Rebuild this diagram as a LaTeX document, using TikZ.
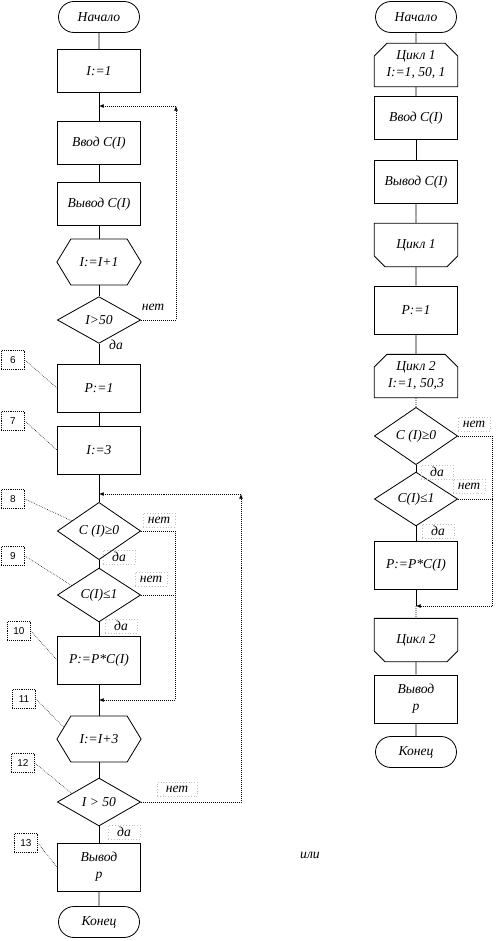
\documentclass[tikz,border=0pt]{standalone}
\usepackage{fontspec}
\setmainfont{Liberation Serif}
\newfontfamily\numfont{Liberation Sans}
\usetikzlibrary{arrows.meta, shapes.geometric, shapes.misc, calc}

\begin{document}
\begin{tikzpicture}[x=0.03cm, y=-0.03cm,
        base/.style={draw, line width=0.7pt, align=center, inner sep=1pt, font=\fontsize{11.6}{14.5}\selectfont\itshape},
        term/.style={base, rounded rectangle, minimum width=2.5cm, minimum height=0.93cm},
        box/.style={base, rectangle, minimum width=2.5cm, minimum height=1.28cm},
        tallbox/.style={box, minimum height=1.44cm},
        hexbox/.style={base, draw=none, minimum width=2.5cm, minimum height=1.36cm},
        cond/.style={base, diamond, minimum width=2.5cm, minimum height=1.4cm},
        loopopen/.style={base, chamfered rectangle, chamfered rectangle corners={north west, north east}, chamfered rectangle xsep=0.27cm, minimum width=2.5cm, minimum height=1.3cm},
        loopclose/.style={base, chamfered rectangle, chamfered rectangle corners={south west, south east}, chamfered rectangle xsep=0.3cm, minimum width=2.5cm, minimum height=1.3cm},
        tag/.style={font=\fontsize{11.6}{13}\selectfont\itshape, inner sep=1pt},
        tagbox/.style={tag, draw=gray!50, dotted, minimum width=0.95cm, minimum height=0.42cm},
        numbox/.style={draw, line width=0.6pt, densely dotted, font=\numfont\fontsize{8.5}{9}\selectfont, minimum width=0.69cm, minimum height=0.57cm, inner sep=0pt},
        pointer/.style={densely dotted, line width=0.5pt},
        flow/.style={line width=0.7pt},
        dotline/.style={densely dotted, line width=0.7pt},
        back/.style={dotline, -{Latex[length=4pt, width=3.5pt]}}
    ]
        \useasboundingbox (0,0) rectangle (501,941);

        % left scheme
        \node[term] (startL) at (99,17) {Начало};
        \node[box] (initL) at (99,71) {I:=1};
        \node[box] (inL) at (99,143) {Ввод C(I)};
        \node[box] (outL) at (99,204) {Вывод C(I)};
        \node[hexbox] (incL) at (99,262) {I:=I+1};
        \node[cond] (condL) at (99,320) {I>50};
        \node[tallbox] (setP) at (99,388) {P:=1};
        \node[tallbox] (setI) at (99,450) {I:=3};
        \node[cond] (condA) at (99,531) {C (I)≥0};
        \node[cond] (condB) at (99,595) {C(I)≤1};
        \node[tallbox] (mult) at (99,660) {P:=P*C(I)};
        \node[hexbox] (incI) at (99,739) {I:=I+3};
        \node[cond] (condC) at (99,802) {I > 50};
        \node[tallbox] (outP) at (99,867) {Вывод\\p};
        \node[term] (endL) at (99,922) {Конец};

        % hexagons
        \draw[flow] (incL.west) -- ($(incL.north west)+(14,0)$) -- ($(incL.north east)+(-14,0)$) -- (incL.east)
            -- ($(incL.south east)+(-14,0)$) -- ($(incL.south west)+(14,0)$) -- cycle;
        \draw[flow] (incI.west) -- ($(incI.north west)+(14,0)$) -- ($(incI.north east)+(-14,0)$) -- (incI.east)
            -- ($(incI.south east)+(-14,0)$) -- ($(incI.south west)+(14,0)$) -- cycle;

        \draw[flow] (startL) -- (initL);
        \draw[flow] (initL) -- (inL);
        \draw[flow] (inL) -- (outL);
        \draw[flow] (outL) -- (incL);
        \draw[flow] (incL) -- (condL);
        \draw[flow] (condL) -- (setP);
        \draw[flow] (setP) -- (setI);
        \draw[flow] (setI) -- (condA);
        \draw[flow] (condA) -- (condB);
        \draw[flow] (condB) -- (mult);
        \draw[flow] (mult) -- (incI);
        \draw[flow] (incI) -- (condC);
        \draw[flow] (condC) -- (outP);
        \draw[flow] (outP) -- (endL);

        % loops back
        \coordinate (jA) at (99,106);
        \coordinate (cA) at (176,106);
        \draw[back] (condL.east) -| (cA);
        \draw[back] (cA) -- (jA);
        \coordinate (jB) at (99,494);
        \coordinate (cB) at (241,494);
        \draw[back] (condC.east) -| (cB);
        \draw[back] (cB) -- (jB);
        \coordinate (jC) at (99,700);
        \coordinate (cC) at (175,700);
        \draw[dotline] (condA.east) -| (cC);
        \draw[dotline] (condB.east) -- (condB.east -| cC);
        \draw[back] (cC) -- (jC);

        \node[tag] (noL) at (153,307) {нет};
        \node[tag] (yesL) at (116,345) {да};
        \node[tagbox] (noA) at (159,520) {нет};
        \node[tagbox] (yesA) at (119,557) {да};
        \node[tagbox] (noB) at (151,579) {нет};
        \node[tagbox] (yesB) at (121,626) {да};
        \node[tagbox, minimum width=1.2cm] (noC) at (177,789) {нет};
        \node[tagbox] (yesC) at (124,832) {да};

        % block numbers
        \node[numbox] (n6) at (13,360) {6};
        \node[numbox] (n7) at (13,421) {7};
        \node[numbox] (n8) at (13,499) {8};
        \node[numbox] (n9) at (13,556) {9};
        \node[numbox] (n10) at (19,631) {10};
        \node[numbox] (n11) at (24,699) {11};
        \node[numbox] (n12) at (23,763) {12};
        \node[numbox] (n13) at (26,843) {13};
        \draw[pointer] (n6.east) -- (setP.west);
        \draw[pointer] (n7.east) -- (setI.west);
        \draw[pointer] (n8.east) -- ($(condA.west)!0.35!(condA.north)$);
        \draw[pointer] (n9.east) -- ($(condB.west)!0.35!(condB.north)$);
        \draw[pointer] (n10.east) -- (mult.west);
        \draw[pointer] (n11.east) -- ($(incI.west)!0.5!($(incI.north west)+(14,0)$)$);
        \draw[pointer] (n12.east) -- ($(condC.west)!0.35!(condC.north)$);
        \draw[pointer] (n13.east) -- (outP.west);

        \node[tag] (orNote) at (310,855) {или};

        % right scheme
        \node[term] (startR) at (416,17) {Начало};
        \node[loopopen] (loopA) at (416,65) {Цикл 1\\I:=1, 50, 1};
        \node[box] (inR) at (416,118) {Ввод C(I)};
        \node[box] (outR) at (416,182) {Вывод C(I)};
        \node[loopclose] (loopAend) at (416,245) {Цикл 1};
        \node[tallbox] (setPR) at (416,310) {P:=1};
        \node[loopopen] (loopB) at (416,376) {Цикл 2\\I:=1, 50,3};
        \node[cond] (condAR) at (416,436) {C (I)≥0};
        \node[cond] (condBR) at (416,499) {C(I)≤1};
        \node[tallbox] (multR) at (416,565) {P:=P*C(I)};
        \node[loopclose] (loopBend) at (416,640) {Цикл 2};
        \node[tallbox] (outPR) at (416,699) {Вывод\\p};
        \node[term] (endR) at (416,752) {Конец};

        \draw[flow] (startR) -- (loopA);
        \draw[flow] (loopA) -- (inR);
        \draw[flow] (inR) -- (outR);
        \draw[flow] (outR) -- (loopAend);
        \draw[flow] (loopAend) -- (setPR);
        \draw[flow] (setPR) -- (loopB);
        \draw[dotline] (loopB) -- (condAR);
        \draw[flow] (condAR) -- (condBR);
        \draw[flow] (condBR) -- (multR);
        \coordinate (jD) at (416,606);
        \coordinate (cD) at (492,606);
        \draw[flow] (multR) -- (jD);
        \draw[dotline] (jD) -- (loopBend);
        \draw[flow] (loopBend) -- (outPR);
        \draw[flow] (outPR) -- (endR);
        \draw[dotline] (condAR.east) -| (cD);
        \draw[dotline] (condBR.east) -- (condBR.east -| cD);
        \draw[back] (cD) -- (jD);

        \node[tagbox] (noAR) at (474,424) {нет};
        \node[tagbox] (yesAR) at (437,472) {да};
        \node[tagbox] (noBR) at (469,486) {нет};
        \node[tagbox] (yesBR) at (438,531) {да};
    \end{tikzpicture}
\end{document}
